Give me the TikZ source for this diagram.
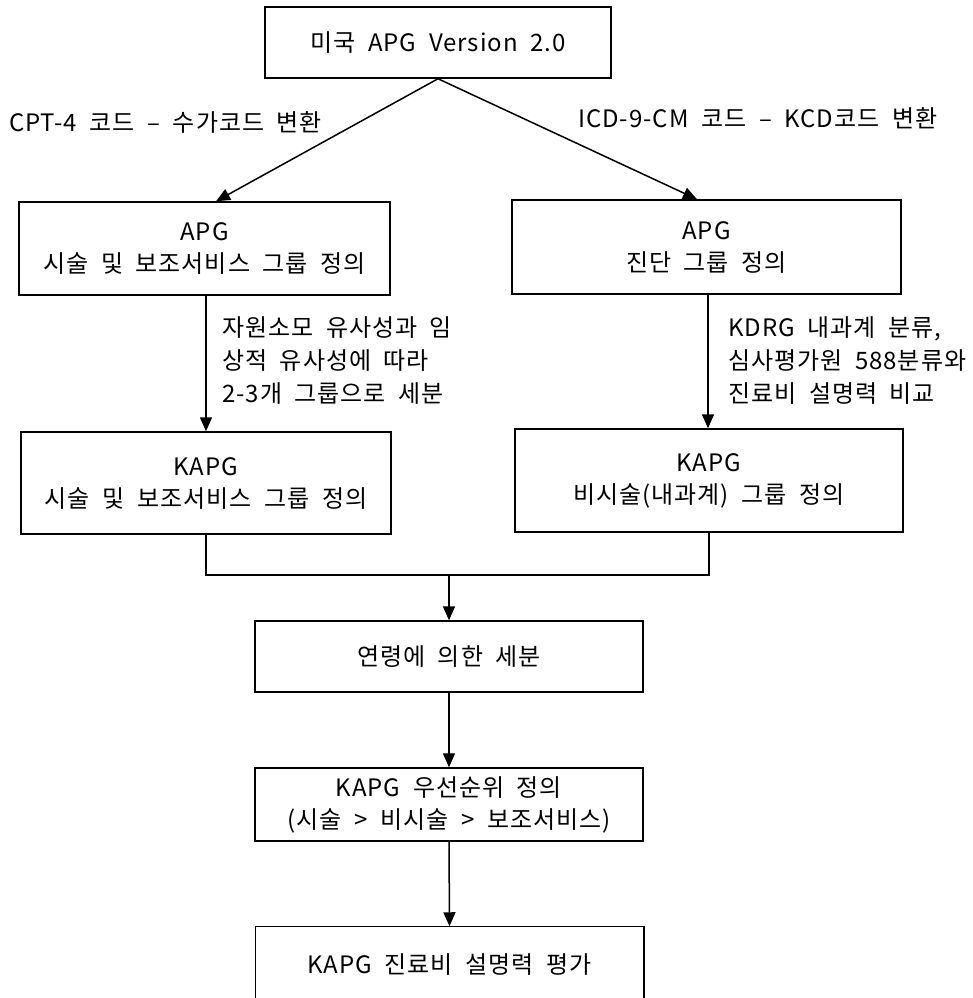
\documentclass[tikz,border=0pt]{standalone}
\usepackage{fontspec}
\setmainfont{Noto Sans CJK KR}[LetterSpace=4,WordSpace=2]
\usetikzlibrary{arrows.meta,positioning}
\begin{document}
\begin{tikzpicture}[x=1pt,y=-1pt,
  box/.style={draw,line width=1.5pt,minimum width=#1,inner sep=0pt,align=center,font=\fontsize{24}{32}\selectfont},
  lbl/.style={inner sep=0pt,align=left,font=\fontsize{24}{33}\selectfont},
  arr/.style={line width=1.5pt,-{Triangle[length=14pt,width=12pt]}},
  ln/.style={line width=1.5pt}]
\useasboundingbox (0,0) rectangle (972,998);
\clip (0,0) rectangle (972,998);
\node[box=346pt,minimum height=71pt] (top) at (438,42.5) {미국 APG Version 2.0};
\node[box=371pt,minimum height=93pt] (apgL) at (204.5,248.5) {APG\\시술 및 보조서비스 그룹 정의};
\node[box=389pt,minimum height=94pt] (apgR) at (706.5,247) {APG\\진단 그룹 정의};
\node[box=370pt,minimum height=102pt] (kapgL) at (206,483) {KAPG\\시술 및 보조서비스 그룹 정의};
\node[box=388pt,minimum height=103pt] (kapgR) at (709,480.5) {KAPG\\비시술(내과계) 그룹 정의};
\node[box=388pt,minimum height=71pt] (age) at (449,656.5) {연령에 의한 세분};
\node[box=388pt,minimum height=73pt] (prio) at (449,804.5) {KAPG 우선순위 정의\\(시술 > 비시술 > 보조서비스)};
\node[box=387pt,minimum height=170pt,draw=none] (eval) at (449.5,1012) {};
\node[lbl] (evalt) at (449.5,965) {KAPG 진료비 설명력 평가};
\draw[ln] (eval.south west) -- (eval.north west) -- (eval.north east) -- (eval.south east);
\node[lbl,anchor=west] (cpt) at (9,122) {CPT-4 코드 – 수가코드 변환};
\node[lbl,anchor=west] (icd) at (578,118) {ICD-9-CM 코드 – KCD코드 변환};
\node[lbl,anchor=west] (noteL) at (222,361) {자원소모 유사성과 임\\상적 유사성에 따라\\2-3개 그룹으로 세분};
\node[lbl,anchor=west] (noteR) at (728,361) {KDRG 내과계 분류,\\심사평가원 588분류와\\진료비 설명력 비교};
\draw[arr] (top.south) -- ([xshift=11.5pt]apgL.north);
\draw[arr] (top.south) -- ([xshift=-9.5pt]apgR.north);
\draw[arr] ([xshift=1.5pt]apgL.south) -- ([xshift=1.5pt]apgL.south |- kapgL.north);
\draw[arr] ([xshift=1.5pt]apgR.south) -- ([xshift=1.5pt]apgR.south |- kapgR.north);
\coordinate (merge) at (449,575);
\draw[ln] (kapgL.south) |- (merge) -| (kapgR.south);
\draw[arr] (merge) -- (age.north);
\draw[arr] (age.south) -- (prio.north);
\draw[arr] (prio.south) -- (eval.north);
\end{tikzpicture}
\end{document}
